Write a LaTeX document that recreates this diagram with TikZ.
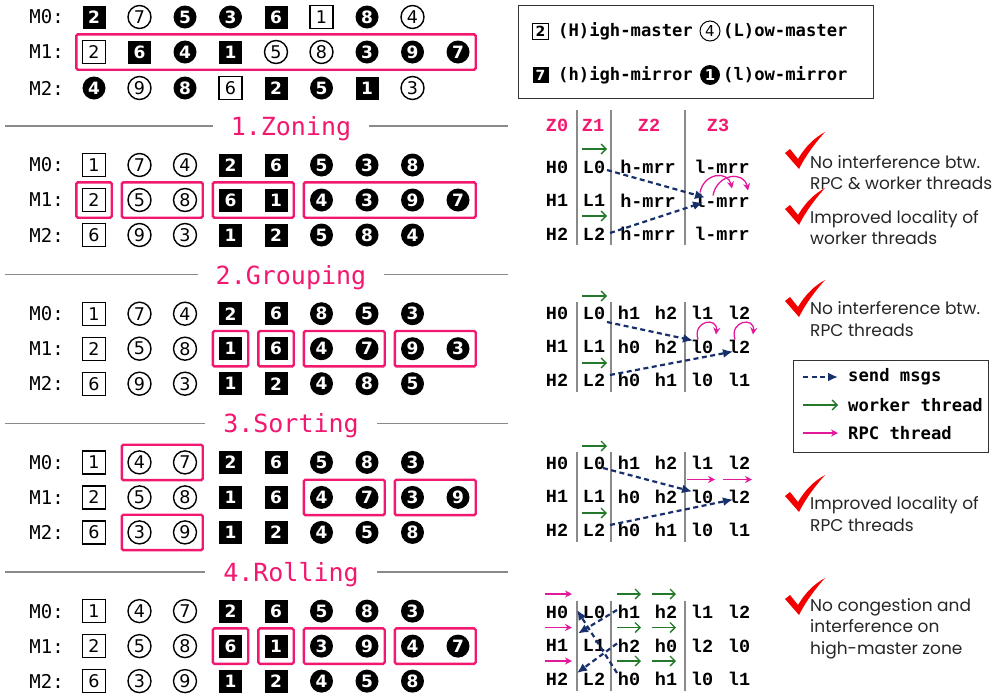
\documentclass[tikz,border=0pt]{standalone}
\usepackage{fontspec}
\setmonofont{DejaVu Sans Mono}
\newfontfamily\notefont{Poppins}
\newfontfamily\codefont{Liberation Mono}
\newfontfamily\digitfont{DejaVu Sans}
\usetikzlibrary{arrows.meta,fit}
\definecolor{pinkline}{HTML}{F2186F}
\definecolor{rpcpink}{HTML}{E3199B}
\definecolor{workgreen}{HTML}{23782A}
\definecolor{msgnavy}{HTML}{17306B}
\definecolor{tickred}{HTML}{F40000}
\definecolor{rulegray}{HTML}{8A8A8A}
\definecolor{legline}{HTML}{333333}
\tikzset{
  cellbase/.style={minimum size=23pt, inner sep=0pt, line width=1.4pt},
  hmst/.style={cellbase, rectangle, draw=black, fill=white, font=\digitfont\fontsize{17.5}{17.5}\selectfont},
  lmst/.style={cellbase, circle, draw=black, fill=white, font=\digitfont\fontsize{17.5}{17.5}\selectfont},
  hmir/.style={cellbase, rectangle, fill=black, text=white, font=\digitfont\bfseries\fontsize{17}{17}\selectfont},
  lmir/.style={cellbase, circle, fill=black, text=white, font=\digitfont\bfseries\fontsize{17}{17}\selectfont},
  mlab/.style={font=\ttfamily\fontsize{19}{19}\selectfont, inner sep=0pt, anchor=east},
  steptitle/.style={font=\ttfamily\fontsize{25}{25}\selectfont, text=pinkline, text depth=0pt, inner xsep=18pt, inner ysep=0pt},
  rule/.style={draw=rulegray, line width=1.3pt},
  grp/.style={draw=pinkline, line width=2.4pt, rounded corners=1.5pt, inner sep=5.5pt},
  ztxt/.style={font=\codefont\bfseries\fontsize{18.5}{18.5}\selectfont, inner sep=0pt},
  zhead/.style={ztxt, text=pinkline},
  zrule/.style={draw=rulegray, line width=1.2pt},
  send/.style={draw=msgnavy, line width=2.2pt, dash pattern=on 5pt off 3.5pt, -{Latex[length=10pt,width=9pt]}},
  worker/.style={draw=workgreen, line width=1.3pt, -{Straight Barb[length=5pt,width=10pt]}},
  rpc/.style={draw=rpcpink, line width=1.3pt, -{Stealth[length=7pt,width=7pt]}},
  note/.style={font=\notefont\fontsize{17}{21.5}\selectfont, align=left, anchor=west, inner sep=0pt, text=black!85},
  legbox/.style={draw=legline, line width=1pt},
  legtxt/.style={font=\ttfamily\bfseries\fontsize{17.2}{17.2}\selectfont, anchor=west, inner sep=0pt},
  okmark/.pic={\fill[tickred] (0,21) -- (5,17) -- (13,27) .. controls (20,15) and (29,6) .. (40,0) .. controls (31,10) and (21,23) .. (14,37) -- cycle;}
}
% one memory row: name, y, label, cells
\newcommand\memrow[4]{%
  \node[mlab] (#1) at (64,#2) {#3:};
  \foreach \s/\d [count=\i] in {#4}
    \node[\s] (#1c\i) at ({94+45.5*(\i-1)},#2) {\d};
}
% one zone table: block, y of first row, rows
\newcommand\zrows[3]{%
  \foreach \a/\b/\c/\d/\e/\f [count=\r from 0] in {#3} {
    \node[ztxt] (z#1H\r) at (557,{#2+33.5*\r}) {\a};
    \node[ztxt] (z#1L\r) at (594,{#2+33.5*\r}) {\b};
    \node[ztxt] (z#1C\r) at (629,{#2+33.5*\r}) {\c};
    \node[ztxt] (z#1D\r) at (666,{#2+33.5*\r}) {\d};
    \node[ztxt] (z#1E\r) at (702,{#2+33.5*\r}) {\e};
    \node[ztxt] (z#1F\r) at (739,{#2+33.5*\r}) {\f};
  }
  \foreach \x in {577,611,685}
    \draw[zrule] (\x,{#2-11}) -- (\x,{#2+79});
}

\begin{document}
\begin{tikzpicture}[x=1pt,y=-1pt]
  \useasboundingbox (0,0) rectangle (1008,694);

  % initial placement
  \memrow{b0r0}{17}{M0}{hmir/2,lmst/7,lmir/5,lmir/3,hmir/6,hmst/1,lmir/8,lmst/4}
  \memrow{b0r1}{52}{M1}{hmst/2,hmir/6,lmir/4,hmir/1,lmst/5,lmst/8,lmir/3,lmir/9,lmir/7}
  \memrow{b0r2}{88}{M2}{lmir/4,lmst/9,lmir/8,hmst/6,hmir/2,lmir/5,hmir/1,lmst/3}
  \node[grp, fit=(b0r1c1)(b0r1c9)] (g0) {};

  % legend of cell kinds
  \node[legbox, minimum width=355pt, minimum height=93pt] (leg1) at (695.5,51.5) {};
  \node[hmst, minimum size=16pt, line width=1pt, font=\digitfont\bfseries\fontsize{14}{14}\selectfont] (lgH) at (540.5,31) {2};
  \node[legtxt] (lgHt) at (558,31) {(H)igh-master};
  \node[lmst, minimum size=20pt, line width=1pt, font=\digitfont\fontsize{15}{15}\selectfont] (lgL) at (710,31) {4};
  \node[legtxt] (lgLt) at (723,31) {(L)ow-master};
  \node[hmir, minimum size=16pt, font=\digitfont\bfseries\fontsize{14}{14}\selectfont] (lgh) at (540.5,75) {7};
  \node[legtxt] (lght) at (558,75) {(h)igh-mirror};
  \node[lmir, minimum size=20pt, font=\digitfont\bfseries\fontsize{15}{15}\selectfont] (lgl) at (710,75) {1};
  \node[legtxt] (lglt) at (723,75) {(l)ow-mirror};

  % 1. zoning
  \node[steptitle] (t1) at (291,126) {1.Zoning};
  \draw[rule] (5,126) -- (t1);
  \draw[rule] (t1) -- (508,126);
  \memrow{b1r0}{165}{M0}{hmst/1,lmst/7,lmst/4,hmir/2,hmir/6,lmir/5,lmir/3,lmir/8}
  \memrow{b1r1}{200}{M1}{hmst/2,lmst/5,lmst/8,hmir/6,hmir/1,lmir/4,lmir/3,lmir/9,lmir/7}
  \memrow{b1r2}{235}{M2}{hmst/6,lmst/9,lmst/3,hmir/1,hmir/2,lmir/5,lmir/8,lmir/4}
  \node[grp, fit=(b1r1c1)] (g1a) {};
  \node[grp, fit=(b1r1c2)(b1r1c3)] (g1b) {};
  \node[grp, fit=(b1r1c4)(b1r1c5)] (g1c) {};
  \node[grp, fit=(b1r1c6)(b1r1c9)] (g1d) {};

  \node[zhead] (zh0) at (557,125) {Z0};
  \node[zhead] (zh1) at (593,125) {Z1};
  \node[zhead] (zh2) at (649,125) {Z2};
  \node[zhead] (zh3) at (718,125) {Z3};
  \foreach \a/\b/\c/\d [count=\r from 0] in {H0/L0/h-mrr/l-mrr,H1/L1/h-mrr/l-mrr,H2/L2/h-mrr/l-mrr} {
    \node[ztxt] (z1H\r) at (557,{167+33.5*\r}) {\a};
    \node[ztxt] (z1L\r) at (594,{167+33.5*\r}) {\b};
    \node[ztxt] (z1A\r) at (648,{167+33.5*\r}) {\c};
    \node[ztxt] (z1B\r) at (722,{167+33.5*\r}) {\d};
  }
  \foreach \x in {577,611,685}
    \draw[zrule] (\x,110) -- (\x,245);
  \draw[worker] ([shift={(-12,-18)}]z1L0.center) -- ++(25,0);
  \draw[worker] ([shift={(-12,-18)}]z1L2.center) -- ++(25,0);
  \draw[send] ([shift={(13,3)}]z1L0.center) -- ([shift={(-17,-3)}]z1B1.center);
  \draw[send] ([shift={(16,-1)}]z1L2.center) -- ([shift={(-19,2)}]z1B1.center);
  \draw[rpc] ([shift={(-22,-8)}]z1B1.center) .. controls +(4,-20) and +(-4,-18) .. ([shift={(10,-12)}]z1B1.center);
  \draw[rpc] ([shift={(-9,-5)}]z1B1.center) .. controls +(4,-22) and +(-4,-20) .. ([shift={(26,-10)}]z1B1.center);
  \pic (chk1) at (785,132) {okmark};
  \node[note] (note1) at (810,172.5) {No interference btw.\\RPC \& worker threads};
  \pic (chk2) at (785,188) {okmark};
  \node[note] (note2) at (810,227.5) {Improved locality of\\worker threads};

  % 2. grouping
  \node[steptitle] (t2) at (291,274.7) {2.Grouping};
  \draw[rule] (5,274.7) -- (t2);
  \draw[rule] (t2) -- (508,274.7);
  \memrow{b2r0}{313.7}{M0}{hmst/1,lmst/7,lmst/4,hmir/2,hmir/6,lmir/8,lmir/5,lmir/3}
  \memrow{b2r1}{348.7}{M1}{hmst/2,lmst/5,lmst/8,hmir/1,hmir/6,lmir/4,lmir/7,lmir/9,lmir/3}
  \memrow{b2r2}{383.7}{M2}{hmst/6,lmst/9,lmst/3,hmir/1,hmir/2,lmir/4,lmir/8,lmir/5}
  \node[grp, fit=(b2r1c4)] (g2a) {};
  \node[grp, fit=(b2r1c5)] (g2b) {};
  \node[grp, fit=(b2r1c6)(b2r1c7)] (g2c) {};
  \node[grp, fit=(b2r1c8)(b2r1c9)] (g2d) {};

  \zrows{2}{313}{H0/L0/h1/h2/l1/l2,H1/L1/h0/h2/l0/l2,H2/L2/h0/h1/l0/l1}
  \draw[worker] ([shift={(-12,-17)}]z2L0.center) -- ++(25,0);
  \draw[worker] ([shift={(-12,-17)}]z2L2.center) -- ++(25,0);
  \draw[send] ([shift={(13,9)}]z2L0.center) -- ([shift={(-9,-6)}]z2E1.center);
  \draw[send] ([shift={(16,-5)}]z2L2.center) -- ([shift={(-6,5)}]z2F1.center);
  \draw[rpc] ([shift={(-4,-7)}]z2E1.center) .. controls +(-6,-19) and +(2,-18) .. ([shift={(14,-12)}]z2E1.center);
  \draw[rpc] ([shift={(-4,-7)}]z2F1.center) .. controls +(-6,-19) and +(2,-18) .. ([shift={(14,-12)}]z2F1.center);
  \pic (chk3) at (785,280) {okmark};
  \node[note] (note3) at (810,319) {No interference btw.\\RPC threads};

  % legend of arrows
  \node[legbox, minimum width=195pt, minimum height=92pt] (leg2) at (890.5,406) {};
  \node[legtxt] (lgsend) at (848,377) {send msgs};
  \node[legtxt] (lgwork) at (848,405) {worker thread};
  \node[legtxt] (lgrpc) at (848,433) {RPC thread};
  \draw[send] ([xshift=-45pt]lgsend.west) -- ([xshift=-10pt]lgsend.west);
  \draw[worker] ([xshift=-45pt]lgwork.west) -- ([xshift=-10pt]lgwork.west);
  \draw[rpc] ([xshift=-45pt]lgrpc.west) -- ([xshift=-10pt]lgrpc.west);

  % 3. sorting
  \node[steptitle] (t3) at (291,423.4) {3.Sorting};
  \draw[rule] (5,423.4) -- (t3);
  \draw[rule] (t3) -- (508,423.4);
  \memrow{b3r0}{462.4}{M0}{hmst/1,lmst/4,lmst/7,hmir/2,hmir/6,lmir/5,lmir/8,lmir/3}
  \memrow{b3r1}{497.4}{M1}{hmst/2,lmst/5,lmst/8,hmir/1,hmir/6,lmir/4,lmir/7,lmir/3,lmir/9}
  \memrow{b3r2}{532.4}{M2}{hmst/6,lmst/3,lmst/9,hmir/1,hmir/2,lmir/4,lmir/5,lmir/8}
  \node[grp, fit=(b3r0c2)(b3r0c3)] (g3a) {};
  \node[grp, fit=(b3r1c6)(b3r1c7)] (g3b) {};
  \node[grp, fit=(b3r1c8)(b3r1c9)] (g3c) {};
  \node[grp, fit=(b3r2c2)(b3r2c3)] (g3d) {};

  \zrows{3}{463}{H0/L0/h1/h2/l1/l2,H1/L1/h0/h2/l0/l2,H2/L2/h0/h1/l0/l1}
  \draw[worker] ([shift={(-12,-17)}]z3L0.center) -- ++(25,0);
  \draw[worker] ([shift={(-12,-17)}]z3L2.center) -- ++(25,0);
  \draw[rpc] ([shift={(-15,-17)}]z3E1.center) -- ++(28,0);
  \draw[rpc] ([shift={(-16,-17)}]z3F1.center) -- ++(29,0);
  \draw[send] ([shift={(9,5)}]z3L0.center) -- ([shift={(-10,-5)}]z3E1.center);
  \draw[send] ([shift={(16,-5)}]z3L2.center) -- ([shift={(-6,3)}]z3F1.center);
  \pic (chk4) at (785,475) {okmark};
  \node[note] (note4) at (810,514) {Improved locality of\\RPC threads};

  % 4. rolling
  \node[steptitle] (t4) at (291,572.1) {4.Rolling};
  \draw[rule] (5,572.1) -- (t4);
  \draw[rule] (t4) -- (508,572.1);
  \memrow{b4r0}{611.1}{M0}{hmst/1,lmst/4,lmst/7,hmir/2,hmir/6,lmir/5,lmir/8,lmir/3}
  \memrow{b4r1}{646.1}{M1}{hmst/2,lmst/5,lmst/8,hmir/6,hmir/1,lmir/3,lmir/9,lmir/4,lmir/7}
  \memrow{b4r2}{681.1}{M2}{hmst/6,lmst/3,lmst/9,hmir/1,hmir/2,lmir/4,lmir/5,lmir/8}
  \node[grp, fit=(b4r1c4)] (g4a) {};
  \node[grp, fit=(b4r1c5)] (g4b) {};
  \node[grp, fit=(b4r1c6)(b4r1c7)] (g4c) {};
  \node[grp, fit=(b4r1c8)(b4r1c9)] (g4d) {};

  \zrows{4}{612}{H0/L0/h1/h2/l1/l2,H1/L1/h2/h0/l2/l0,H2/L2/h0/h1/l0/l1}
  \foreach \r in {0,1,2} {
    \draw[rpc] ([shift={(-12,-18)}]z4H\r.center) -- ++(27,0);
    \draw[worker] ([shift={(-12,-18)}]z4C\r.center) -- ++(24,0);
    \draw[worker] ([shift={(-14,-18)}]z4D\r.center) -- ++(24,0);
  }
  \draw[send] ([shift={(-12,-2)}]z4C0.center) -- ([shift={(-16,-12)}]z4L1.center);
  \draw[send] ([shift={(-12,-2)}]z4C1.center) -- ([shift={(-17,-6)}]z4L2.center);
  \draw[send] ([shift={(-12,-6)}]z4C2.center) -- ([shift={(-17,-2)}]z4L0.center);
  \pic (chk5) at (785,578) {okmark};
  \node[note] (note5) at (810,628.5) {No congestion and\\interference on\\high-master zone};
\end{tikzpicture}
\end{document}
